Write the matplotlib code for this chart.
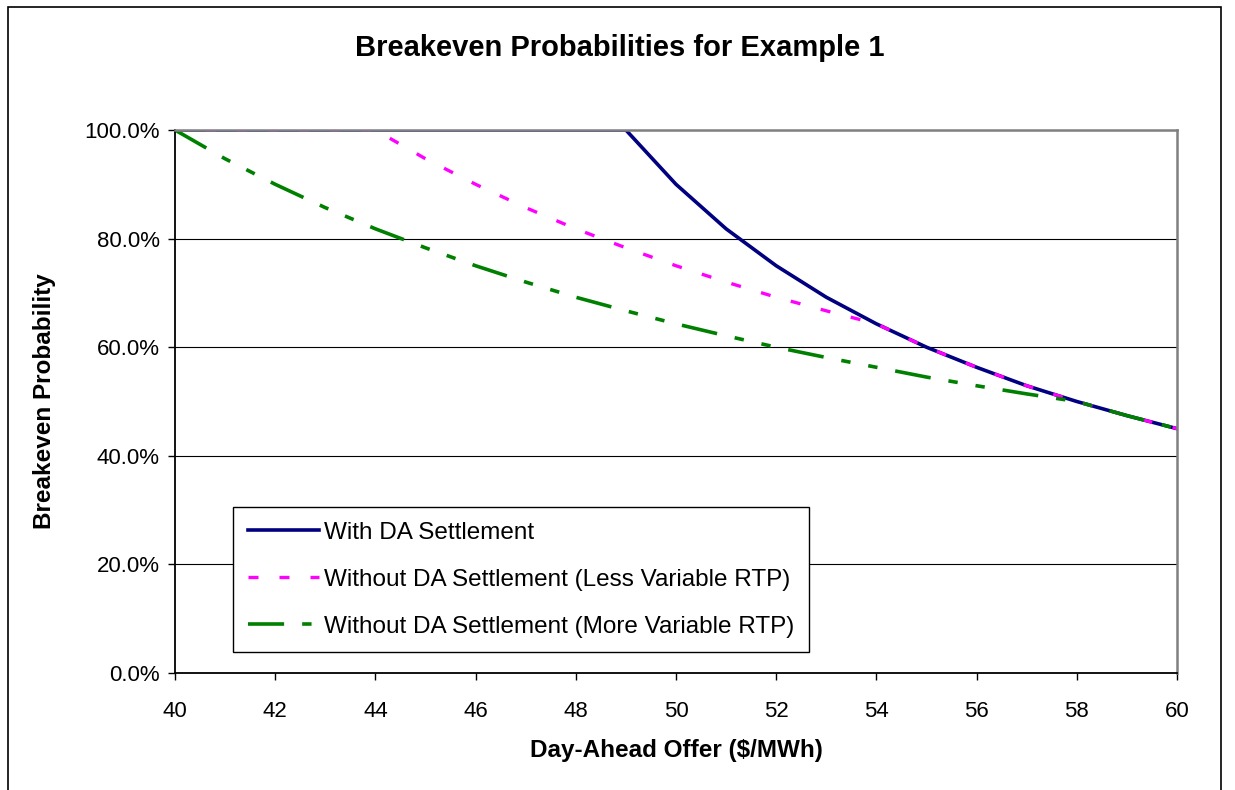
import numpy as np
import matplotlib
matplotlib.use("Agg")
import matplotlib.pyplot as plt
from matplotlib.ticker import PercentFormatter
from matplotlib.patches import Rectangle

plt.rcParams['font.family'] = ['Liberation Sans', 'DejaVu Sans']

# values, one point per $1/MWh
offer = [40, 41, 42, 43, 44, 45, 46, 47, 48, 49, 50,
         51, 52, 53, 54, 55, 56, 57, 58, 59, 60]
with_da = [1.000, 1.000, 1.000, 1.000, 1.000, 1.000, 1.000, 1.000, 1.000, 1.000, 0.900,
           0.818, 0.750, 0.692, 0.643, 0.600, 0.563, 0.529, 0.500, 0.474, 0.450]
less_var = [1.000, 1.000, 1.000, 1.000, 1.000, 0.947, 0.900, 0.857, 0.818, 0.783, 0.750,
            0.720, 0.692, 0.667, 0.643, 0.600, 0.563, 0.529, 0.500, 0.474, 0.450]
more_var = [1.000, 0.947, 0.900, 0.857, 0.818, 0.783, 0.750, 0.720, 0.692, 0.667, 0.643,
            0.621, 0.600, 0.581, 0.563, 0.545, 0.529, 0.514, 0.500, 0.474, 0.450]
labels = ["With DA Settlement",
          "Without DA Settlement (Less Variable RTP)",
          "Without DA Settlement (More Variable RTP)"]

W, H = 1235, 790
fig = plt.figure(figsize=(W / 100, H / 100), dpi=100)

# outer chart frame
fig.patches.append(Rectangle((8 / W, -0.05), (1221 - 8) / W, 1.05 - 7 / H,
                             transform=fig.transFigure, fill=False,
                             edgecolor='black', lw=1.2))

ax = fig.add_axes([175 / W, 1 - 673 / H, (1177 - 175) / W, (673 - 130) / H])

ax.plot(offer, with_da, color='#000080', lw=2.6, label=labels[0],
        solid_joinstyle='miter')
ax.plot(offer, less_var, color='#FF00FF', lw=2.4, dashes=(3, 6.3),
        label=labels[1])
ax.plot(offer, more_var, color='#008000', lw=2.6, dashes=(10, 5, 2.6, 5, 2.6, 5),
        label=labels[2])

ax.set_xlim(40, 60)
ax.set_ylim(0, 1)
ax.set_xticks(np.arange(40, 61, 2))
ax.set_yticks(np.arange(0, 1.01, 0.2))
ax.yaxis.set_major_formatter(PercentFormatter(1.0, decimals=1))
ax.tick_params(axis='both', labelsize=16, direction='out', length=5, width=1)
ax.tick_params(axis='y', pad=6)
ax.tick_params(axis='x', pad=15)

ax.grid(axis='y', color='black', lw=0.8)
ax.set_axisbelow(True)
for side in ['left', 'bottom']:
    ax.spines[side].set_color('black')
    ax.spines[side].set_linewidth(1.3)
for side in ['top', 'right']:
    ax.spines[side].set_color('#808080')
    ax.spines[side].set_linewidth(1.8)

ax.set_xlabel("Day-Ahead Offer ($/MWh)", fontsize=17.5, fontweight='bold')
ax.xaxis.set_label_coords(0.5, (673 - 750) / 543)
ax.xaxis.label.set_va('center')
ax.set_ylabel("Breakeven Probability", fontsize=17.5, fontweight='bold')
ax.yaxis.set_label_coords((45 - 175) / 1002, 0.5)
ax.yaxis.label.set_va('center')

fig.text(620 / W, 1 - 48 / H, "Breakeven Probabilities for Example 1",
         fontsize=21, fontweight='bold', ha='center', va='center')

leg = ax.legend(loc='upper left', bbox_to_anchor=(233 / W, 1 - 507 / H),
                bbox_transform=fig.transFigure, fontsize=17.5, frameon=True,
                fancybox=False, edgecolor='black', framealpha=1,
                handlelength=2.95, handletextpad=0.2, labelspacing=1.03,
                borderpad=0.6, borderaxespad=0)
leg.get_frame().set_linewidth(1.0)

fig.savefig("out.png", dpi=100)
